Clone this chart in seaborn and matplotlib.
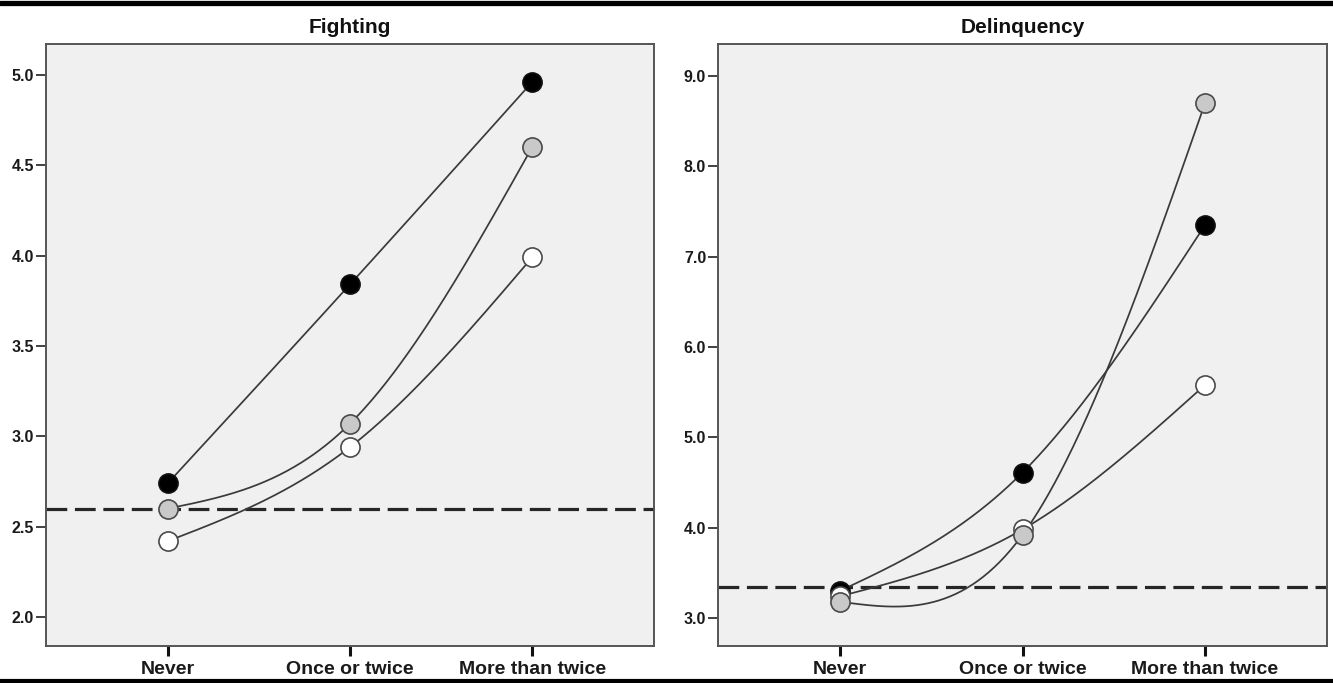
import numpy as np
import pandas as pd
import matplotlib
matplotlib.use("Agg")
import matplotlib.pyplot as plt
from matplotlib.lines import Line2D
import seaborn as sns

# Exposure categories on the x axis
categories = ["Never", "Once or twice", "More than twice"]

# Fighting panel: group means per category
fighting_black = [2.74, 3.84, 4.96]
fighting_gray = [2.60, 3.07, 4.60]
fighting_white = [2.42, 2.94, 3.99]
fighting_ref = 2.60

# Delinquency panel: group means per category
delinq_black = [3.30, 4.61, 7.35]
delinq_gray = [3.18, 3.92, 8.70]
delinq_white = [3.24, 3.98, 5.58]
delinq_ref = 3.34

sns.set_theme(style="white")
plt.rcParams["font.family"] = ["Liberation Sans Narrow", "Liberation Sans", "DejaVu Sans"]


def natural_spline(y, n=200):
    """Natural cubic spline through equally spaced points at x = 0..len(y)-1."""
    y = np.asarray(y, dtype=float)
    k = len(y)
    x = np.arange(k, dtype=float)
    M = np.zeros(k)
    if k > 2:
        A = np.zeros((k - 2, k - 2))
        b = np.zeros(k - 2)
        for i in range(1, k - 1):
            A[i - 1, i - 1] = 4.0
            if i - 2 >= 0:
                A[i - 1, i - 2] = 1.0
            if i < k - 2:
                A[i - 1, i] = 1.0
            b[i - 1] = 6.0 * (y[i - 1] - 2 * y[i] + y[i + 1])
        M[1:-1] = np.linalg.solve(A, b)
    xs = np.linspace(0, k - 1, n)
    ys = np.empty_like(xs)
    for j, xv in enumerate(xs):
        i = min(int(np.floor(xv)), k - 2)
        t = xv - x[i]
        ys[j] = (M[i] * (1 - t) ** 3 / 6 + M[i + 1] * t ** 3 / 6
                 + (y[i] - M[i] / 6) * (1 - t) + (y[i + 1] - M[i + 1] / 6) * t)
    return xs, ys


group_styles = {
    "black": dict(face="#000000", edge="#111111"),
    "white": dict(face="#ffffff", edge="#4a4a4a"),
    "gray": dict(face="#c9c9c9", edge="#4a4a4a"),
}

fig = plt.figure(figsize=(13.33, 6.83), dpi=100)
fig.patch.set_facecolor("white")

W, H = 1333.0, 683.0
ax_left = fig.add_axes([46 / W, (H - 646) / H, (654 - 46) / W, (646 - 44) / H])
ax_right = fig.add_axes([718 / W, (H - 646) / H, (1327 - 718) / W, (646 - 44) / H])

panels = [
    (ax_left, "Fighting",
     {"black": fighting_black, "white": fighting_white, "gray": fighting_gray},
     fighting_ref, (1.84, 5.17), np.arange(2.0, 5.01, 0.5)),
    (ax_right, "Delinquency",
     {"black": delinq_black, "white": delinq_white, "gray": delinq_gray},
     delinq_ref, (2.69, 9.354), np.arange(3.0, 9.01, 1.0)),
]

for ax, title, series, ref, ylim, yticks in panels:
    ax.set_facecolor("#f0f0f0")
    ax.axhline(ref, color="#262626", lw=2.3, dashes=(6.5, 2.4), zorder=1)

    for name, vals in series.items():
        xs, ys = natural_spline(vals)
        curve = pd.DataFrame({"x": xs, "y": ys})
        sns.lineplot(data=curve, x="x", y="y", ax=ax, color="#3a3a3a",
                     lw=1.25, sort=False, zorder=2, legend=False)

    for name in ["black", "white", "gray"]:
        vals = series[name]
        pts = pd.DataFrame({"x": np.arange(len(categories)), "y": vals})
        st = group_styles[name]
        sns.scatterplot(data=pts, x="x", y="y", ax=ax, s=190,
                        color=st["face"], edgecolor=st["edge"],
                        linewidth=1.2, zorder=3, legend=False)

    ax.set_xlim(-0.668, 2.668)
    ax.set_ylim(*ylim)
    ax.set_xticks(range(len(categories)))
    ax.set_xticklabels(categories, fontsize=14, fontweight="bold", color="#1a1a1a")
    ax.set_yticks(yticks)
    ax.set_yticklabels([f"{v:.1f}" for v in yticks], fontsize=11.5,
                       fontweight="bold", color="#1a1a1a")
    ax.tick_params(axis="x", direction="out", length=7, width=2.2,
                   color="#111111", pad=4, bottom=True)
    ax.tick_params(axis="y", direction="out", length=7.5, width=1.3,
                   color="#333333", pad=1, left=True)
    ax.set_xlabel("")
    ax.set_ylabel("")
    for sp in ax.spines.values():
        sp.set_visible(True)
        sp.set_color("#555555")
        sp.set_linewidth(1.4)
    ax.set_title(title, fontsize=15, fontweight="bold", color="#111111",
                 pad=8, family=["Liberation Sans", "DejaVu Sans"])

# Heavy rules framing the figure top and bottom
fig.add_artist(Line2D([0, 1], [1 - 2.5 / H, 1 - 2.5 / H], transform=fig.transFigure,
                      color="#000000", lw=3.8))
fig.add_artist(Line2D([0, 1], [2 / H, 2 / H], transform=fig.transFigure,
                      color="#000000", lw=3.0))

fig.savefig("out.png", dpi=100, facecolor="white")
